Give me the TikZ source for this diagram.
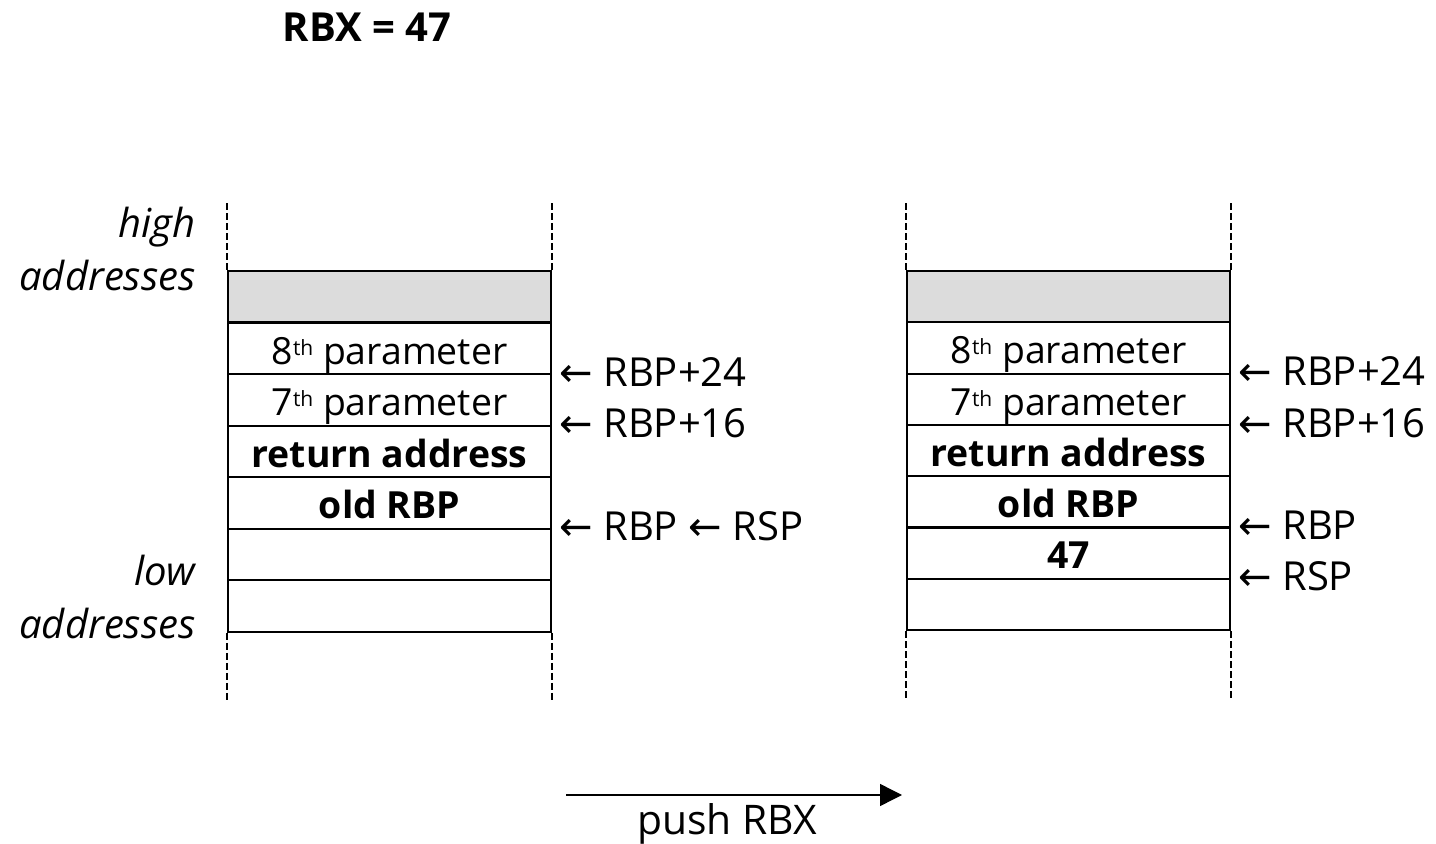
\documentclass[tikz,border=0pt]{standalone}
\usepackage{fontspec}
\setmainfont{Open Sans}
\newfontfamily\arrowfont{DejaVu Sans}
\usetikzlibrary{arrows.meta}
\definecolor{cellgray}{RGB}{220,220,220}
\newcommand{\la}{{\arrowfont\char"2190}}
\newcommand{\ordsup}[1]{\raisebox{4.5pt}{\fontsize{10.5}{10}\selectfont #1}}
\tikzset{
  cell/.style={draw, line width=1pt, minimum width=161.5pt, minimum height=25.75pt, inner sep=0pt, anchor=north west},
  graycell/.style={cell, fill=cellgray},
  celltext/.style={anchor=base, inner sep=0pt, font=\fontsize{18.7}{21}\selectfont},
  boldcell/.style={celltext, font=\fontsize{18.7}{21}\selectfont\bfseries},
  ptr/.style={anchor=base west, inner sep=0pt, font=\fontsize{20}{24}\selectfont},
  side/.style={anchor=base east, inner sep=0pt, font=\fontsize{20}{24}\selectfont\itshape},
  guide/.style={line width=0.75pt, dash pattern=on 3.5pt off 1.5pt},
}
\begin{document}
\begin{tikzpicture}[x=0.5pt, y=-0.5pt]
\useasboundingbox (0,0) rectangle (1436,844);
\node[anchor=base, inner sep=0pt, font=\fontsize{20}{24}\selectfont\bfseries] (title) at (367,42) {RBX = 47};

\node[side] (hi1) at (196,238) {high};
\node[side] (hi2) at (196,291) {addresses};
\node[side] (lo1) at (196,586) {low};
\node[side] (lo2) at (196,639) {addresses};

\foreach \s/\x/\h in {L/227/51.57, R/906/51.3}{
  \node[graycell] (\s0) at (\x,270) {};
  \foreach \i [evaluate=\i as \yy using 270+\i*\h] in {1,...,6}{
    \node[cell] (\s\i) at (\x,\yy) {};
  }
  \draw[guide] (\s0.north west) -- ++(0,-70);
  \draw[guide] (\s0.north east) -- ++(0,-70);
  \draw[guide] (\s6.south west) -- ++(0,70);
  \draw[guide] (\s6.south east) -- ++(0,70);
}

\foreach \s in {L,R}{
  \node[celltext] at ([yshift=5.5pt]\s1.south) {8\ordsup{th} parameter};
  \node[celltext] at ([yshift=5.5pt]\s2.south) {7\ordsup{th} parameter};
  \node[boldcell] at ([yshift=5.5pt]\s3.south) {return address};
  \node[boldcell] at ([yshift=5.5pt]\s4.south) {old RBP};
}
\node[boldcell] at ([yshift=5.5pt]R5.south) {47};

\node[ptr] (pl1) at ([xshift=3.5pt,yshift=-5.5pt]L1.south east) {\la\ RBP+24};
\node[ptr] (pl2) at ([xshift=3.5pt,yshift=-5.5pt]L2.south east) {\la\ RBP+16};
\node[ptr] (pl3) at ([xshift=3.5pt,yshift=-5.5pt]L4.south east) {\la\ RBP \la\ RSP};
\node[ptr] (pr1) at ([xshift=3.5pt,yshift=-5.5pt]R1.south east) {\la\ RBP+24};
\node[ptr] (pr2) at ([xshift=3.5pt,yshift=-5.5pt]R2.south east) {\la\ RBP+16};
\node[ptr] (pr3) at ([xshift=3.5pt,yshift=-5.5pt]R4.south east) {\la\ RBP};
\node[ptr] (pr4) at ([xshift=3.5pt,yshift=-5.5pt]R5.south east) {\la\ RSP};

\coordinate (a1) at (566,795);
\coordinate (a2) at (902,795);
\draw[line width=0.7pt, -{Triangle[length=11pt,width=11pt]}] (a1) -- (a2);
\node[anchor=base, inner sep=0pt, font=\fontsize{20.4}{24}\selectfont] (push) at (727,834) {push RBX};
\end{tikzpicture}
\end{document}
